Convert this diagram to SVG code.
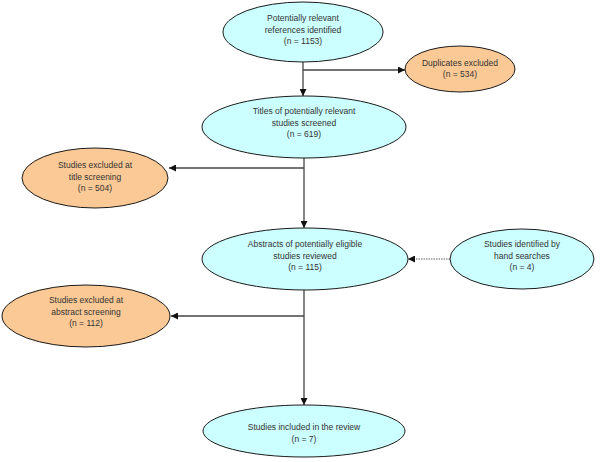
<svg xmlns="http://www.w3.org/2000/svg" width="600" height="462" viewBox="0 0 600 462">
<defs>
<style>
.blue{fill:#ccffff;stroke:#1a1a1a;stroke-width:1}
.orange{fill:#fbc995;stroke:#1a1a1a;stroke-width:1}
text{font-family:"Liberation Sans",Arial,sans-serif;font-size:8.5px;fill:#333;text-anchor:middle}
.ln{stroke:#444;stroke-width:1.3;fill:none}
.dot{stroke:#666;stroke-width:1;stroke-dasharray:1.5 1;fill:none}
</style>
<marker id="ah" viewBox="0 0 10 10" refX="10" refY="5" markerWidth="7" markerHeight="7" markerUnits="userSpaceOnUse" orient="auto">
<path d="M0,0 L10,5 L0,10 z" fill="#111"/>
</marker>
</defs>
<rect width="600" height="462" fill="#fff"/>
<g id="connectors">
<line class="ln" x1="303" y1="62" x2="303" y2="96" marker-end="url(#ah)"/>
<line class="ln" x1="303" y1="70" x2="405" y2="70" marker-end="url(#ah)"/>
<line class="ln" x1="304" y1="158" x2="304" y2="228" marker-end="url(#ah)"/>
<line class="ln" x1="304" y1="168" x2="169" y2="168" marker-end="url(#ah)"/>
<line class="dot" x1="450" y1="259" x2="408" y2="259" marker-end="url(#ah)"/>
<line class="ln" x1="304" y1="290" x2="304" y2="405" marker-end="url(#ah)"/>
<line class="ln" x1="304" y1="316" x2="171" y2="316" marker-end="url(#ah)"/>
</g>
<g id="n1">
<ellipse class="blue" cx="303" cy="32" rx="80" ry="30"/>
<text x="303" y="21">Potentially relevant</text>
<text x="303" y="32.5">references identified</text>
<text x="303" y="44">(n = 1153)</text>
</g>
<g id="n2">
<ellipse class="orange" cx="460" cy="69" rx="55" ry="23"/>
<text x="460" y="66">Duplicates excluded</text>
<text x="460" y="77">(n = 534)</text>
</g>
<g id="n3">
<ellipse class="blue" cx="304" cy="127" rx="102" ry="31"/>
<text x="304" y="114">Titles of potentially relevant</text>
<text x="304" y="125.5">studies screened</text>
<text x="304" y="137">(n = 619)</text>
</g>
<g id="n4">
<ellipse class="orange" cx="95" cy="178" rx="73" ry="30"/>
<text x="95" y="168">Studies excluded at</text>
<text x="95" y="179.5">title screening</text>
<text x="95" y="191">(n = 504)</text>
</g>
<g id="n5">
<ellipse class="blue" cx="305" cy="259" rx="103" ry="31"/>
<text x="305" y="247">Abstracts of potentially eligible</text>
<text x="305" y="258.5">studies reviewed</text>
<text x="305" y="270">(n = 115)</text>
</g>
<g id="n6">
<ellipse class="blue" cx="522" cy="259" rx="72" ry="30"/>
<text x="522" y="247">Studies identified by</text>
<text x="522" y="258.5">hand searches</text>
<text x="522" y="270">(n = 4)</text>
</g>
<g id="n7">
<ellipse class="orange" cx="86" cy="316" rx="84" ry="31"/>
<text x="86" y="303">Studies excluded at</text>
<text x="86" y="314.5">abstract screening</text>
<text x="86" y="326">(n = 112)</text>
</g>
<g id="n8">
<ellipse class="blue" cx="304" cy="431" rx="101" ry="26"/>
<text x="304" y="430">Studies included in the review</text>
<text x="304" y="442">(n = 7)</text>
</g>
</svg>
